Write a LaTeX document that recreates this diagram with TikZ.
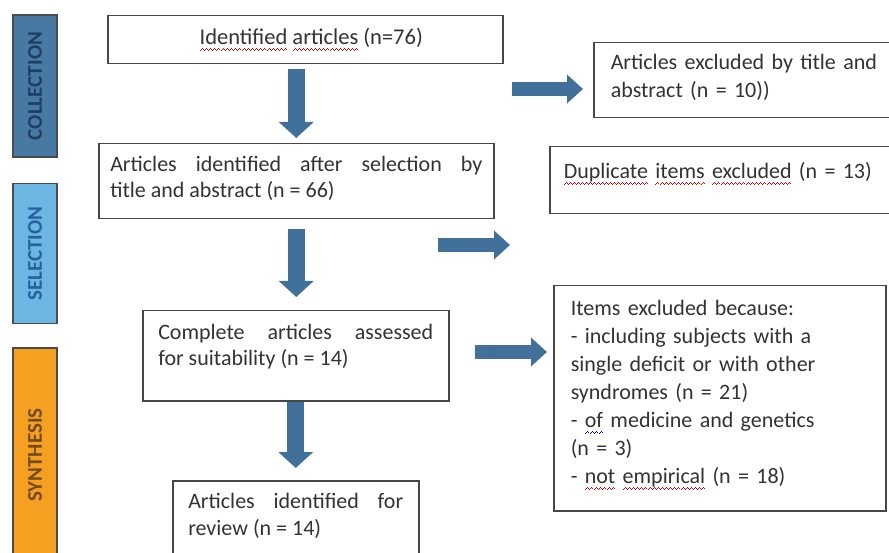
\documentclass[tikz,border=0pt]{standalone}
\usepackage{fontspec}
\setmainfont{Carlito}
\usepackage{xcolor}
\usetikzlibrary{arrows.meta, calc}

\definecolor{flowblue}{RGB}{65,112,155}
\definecolor{boxgray}{RGB}{70,70,70}
\definecolor{collfill}{RGB}{72,121,162}
\definecolor{colltext}{RGB}{30,62,98}
\definecolor{selfill}{RGB}{108,182,228}
\definecolor{seltext}{RGB}{38,98,158}
\definecolor{synfill}{RGB}{245,160,32}
\definecolor{syntext}{RGB}{118,74,22}

% wavy spell-check marks, made of tiny rules
\newsavebox{\wordbox}
\newcommand{\wavebit}{\rule[-6pt]{1pt}{0.9pt}\rule[-5.2pt]{1pt}{0.9pt}\rule[-4.4pt]{1pt}{0.9pt}\rule[-5.2pt]{1pt}{0.9pt}}
\newcommand{\squiggle}[2]{\sbox{\wordbox}{#2}\rlap{\textcolor{#1}{\hbox to \wd\wordbox{\xleaders\hbox{\wavebit}\hfill}}}\usebox{\wordbox}}
\newcommand{\spellred}[1]{\squiggle{red!85!black}{#1}}
\newcommand{\spellblue}[1]{\squiggle{blue!70!black}{#1}}

\begin{document}
\begin{tikzpicture}[
    x=1pt, y=-1pt,
    body/.style={font=\fontsize{22}{25.5}\selectfont, text=black!80},
    box/.style={draw=boxgray, line width=1.5pt, fill=white, anchor=north west, inner ysep=0pt, body},
    phasebar/.style={draw=black!70, line width=1.2pt, rotate=90, minimum height=44pt, font=\fontsize{21}{21}\selectfont\bfseries},
    blockdown/.style={draw=flowblue, line width=17pt, -{Triangle[length=16pt, width=34pt]}},
    blockright/.style={draw=flowblue, line width=14pt, -{Triangle[length=16pt, width=28pt]}}
  ]
    \useasboundingbox (0,0) rectangle (889,553);
    \clip (0,0) rectangle (889,553);
    % phases
    \node[phasebar, fill=collfill, text=colltext, minimum width=142pt] (collection) at (35,86) {COLLECTION};
    \node[phasebar, fill=selfill, text=seltext, minimum width=140pt] (selection) at (35,253.5) {SELECTION};
    \node[phasebar, fill=synfill, text=syntext, minimum width=214pt] (synthesis) at (35,455) {SYNTHESIS};
    % main flow
    \node[box, minimum width=395pt, minimum height=48pt, align=center, font=\fontsize{22.5}{25}\selectfont] (identified) at (107,15) {\hspace*{12pt}\spellred{Identified} \spellred{articles} (n=76)};
    \node[box, text width=372pt, inner xsep=11.5pt, align=justify, text height=28pt, text depth=47pt] (selected) at (98,143) {Articles identified after selection by\linebreak title and abstract (n = 66)};
    \node[box, text width=275pt, inner xsep=15.5pt, align=justify, text height=29pt, text depth=61pt] (assessed) at (142,310) {Complete articles assessed\linebreak for suitability (n = 14)};
    \node[box, text width=215pt, inner xsep=15.5pt, align=justify, text height=28pt, text depth=100pt, font=\fontsize{22}{27}\selectfont] (review) at (172,480) {Articles identified for\linebreak review (n = 14)};
    % exclusions
    \node[box, text width=300pt, inner xsep=17pt, align=left, text height=27pt, text depth=48pt, font=\fontsize{22}{28}\selectfont] (byTitle) at (593,42) {Articles excluded by title and\\abstract (n = 10))};
    \node[box, text width=340pt, inner xsep=14pt, align=left, text height=32pt, text depth=35pt] (duplicates) at (549,146) {\spellred{Duplicate} \spellred{items} \spellred{excluded} (n = 13)};
    \node[box, text width=298pt, inner xsep=17pt, align=left, text height=30pt, text depth=195pt, font=\fontsize{22}{28}\selectfont] (reasons) at (553,285) {Items excluded because:\\- including subjects with a\\single deficit or with other\\syndromes (n = 21)\\- \spellblue{of} medicine and genetics\\(n = 3)\\- \spellred{not} \spellred{empirical} (n = 18)};
    % arrows
    \draw[blockdown, shorten <=5pt, shorten >=5pt] (identified.south -| selected.north) -- (selected.north);
    \draw[blockdown, shorten <=10pt, shorten >=13pt] (selected.south) -- (selected.south |- assessed.north);
    \draw[blockdown, shorten >=12pt] (assessed.south) -- (assessed.south |- review.north);
    \coordinate (cut1) at (512,89);
    \coordinate (cut2a) at (438,245);
    \coordinate (cut2b) at (510,245);
    \coordinate (cut3) at (475,352);
    \draw[blockright, shorten >=10pt] (cut1) -- (cut1 -| byTitle.west);
    \draw[blockright] (cut2a) -- (cut2b);
    \draw[blockright, shorten >=6pt] (cut3) -- (cut3 -| reasons.west);
\end{tikzpicture}
\end{document}
